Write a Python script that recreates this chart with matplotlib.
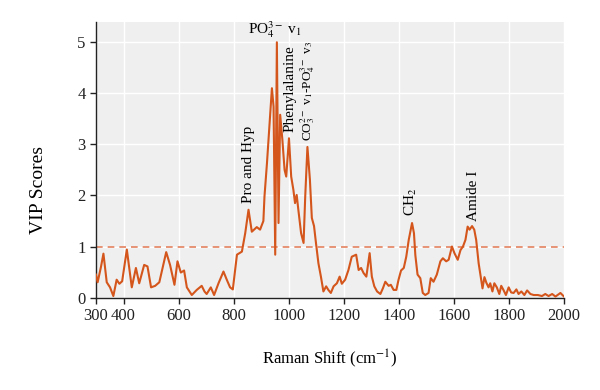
import matplotlib
matplotlib.use("Agg")
import matplotlib.pyplot as plt

plt.rcParams["font.family"] = ["Liberation Serif", "DejaVu Serif"]
plt.rcParams["mathtext.fontset"] = "stix"

# Raman shift (cm-1) and VIP scores
shift = [300, 306, 318, 327, 339, 351, 363, 375, 385, 395, 412, 430, 445, 457,
         475, 487, 500, 515, 530, 555, 569, 585, 596, 608, 620, 630, 648, 666,
         684, 694, 702, 717, 729, 745, 763, 775, 787, 797, 812, 830, 842, 854,
         866, 884, 896, 908, 912, 921, 929, 939, 945, 951, 957, 963, 969, 977,
         985, 991, 1001, 1009, 1017, 1023, 1029, 1035, 1045, 1054, 1060, 1068,
         1077, 1084, 1092, 1099, 1108, 1117, 1126, 1136, 1144, 1153, 1163, 1175,
         1185, 1193, 1205, 1217, 1229, 1245, 1254, 1263, 1272, 1282, 1294, 1302,
         1311, 1321, 1333, 1342, 1351, 1363, 1371, 1381, 1391, 1399, 1408, 1418,
         1427, 1436, 1448, 1455, 1460, 1468, 1478, 1487, 1496, 1508, 1516, 1526,
         1538, 1551, 1560, 1572, 1581, 1593, 1602, 1614, 1624, 1633, 1642, 1650,
         1657, 1666, 1674, 1681, 1690, 1699, 1704, 1711, 1718, 1726, 1732, 1740,
         1747, 1756, 1765, 1772, 1780, 1789, 1799, 1808, 1817, 1827, 1835, 1845,
         1856, 1866, 1878, 1890, 1905, 1920, 1932, 1944, 1957, 1969, 1977, 1987,
         2000]
vip = [0.45, 0.3, 0.6, 0.86, 0.3, 0.2, 0.03, 0.35, 0.27, 0.32, 0.94, 0.2, 0.58, 0.28,
       0.64, 0.61, 0.2, 0.23, 0.3, 0.89, 0.64, 0.25, 0.71, 0.49, 0.53, 0.2, 0.05, 0.15,
       0.23, 0.12, 0.07, 0.2, 0.05, 0.28, 0.51, 0.35, 0.2, 0.16, 0.84, 0.9, 1.26, 1.72,
       1.29, 1.38, 1.33, 1.5, 1.98, 2.63, 3.29, 4.1, 3.74, 0.84, 5.0, 1.46, 3.58, 3.09,
       2.5, 2.37, 3.12, 2.37, 2.11, 1.85, 2.01, 1.72, 1.26, 1.07, 1.98, 2.95,
       2.31, 1.56, 1.4, 1.07, 0.67, 0.41, 0.12, 0.22, 0.15, 0.09, 0.22, 0.28,
       0.41, 0.27, 0.35, 0.54, 0.8, 0.84, 0.54, 0.58, 0.48, 0.41, 0.87, 0.41,
       0.22, 0.12, 0.07, 0.18, 0.31, 0.23, 0.25, 0.15, 0.15, 0.35, 0.53, 0.58,
       0.8, 1.13, 1.46, 1.26, 0.83, 0.45, 0.38, 0.09, 0.05, 0.09, 0.38, 0.31,
       0.45, 0.71, 0.77, 0.71, 0.74, 1.0, 0.87, 0.74, 0.93, 1.0, 1.13, 1.39,
       1.33, 1.4, 1.33, 1.13, 0.67, 0.35, 0.18, 0.4, 0.29, 0.2, 0.28, 0.12,
       0.28, 0.2, 0.07, 0.23, 0.15, 0.05, 0.2, 0.1, 0.09, 0.16, 0.07, 0.12,
       0.05, 0.14, 0.07, 0.05, 0.05, 0.03, 0.07, 0.03, 0.07, 0.02, 0.05, 0.09,
       0.02]

xticks = [300, 400, 600, 800, 1000, 1200, 1400, 1600, 1800, 2000]
yticks = [0, 1, 2, 3, 4, 5]
threshold = 1.0

# band labels: text, x, y (bottom of rotated text), font size
bands = [
    ("Pro and Hyp", 853, 1.85, 11),
    ("Phenylalanine", 1003, 3.24, 11),
    (r"CO$_3^{2-}$ v$_1$-PO$_4^{3-}$ v$_3$", 1068, 3.06, 9.5),
    (r"CH$_2$", 1444, 1.6, 11),
    ("Amide I", 1671, 1.5, 11),
]

line_color = "#d4561c"

fig = plt.figure(figsize=(6, 3.9), dpi=100)
ax = fig.add_axes([0.16, 0.237, 0.78, 0.707])
ax.set_facecolor("#efefef")

ax.plot(shift, vip, color=line_color, linewidth=1.5, zorder=3)
ax.axhline(threshold, color="#e4825f", linestyle=(0, (4, 3)), linewidth=1.2, zorder=2)

ax.set_xlim(300, 2000)
ax.set_ylim(0, 5.4)
ax.set_xticks(xticks)
ax.set_yticks(yticks)
ax.grid(True, color="white", linewidth=1.0, zorder=0)
ax.set_axisbelow(True)

for side in ["top", "right"]:
    ax.spines[side].set_visible(False)
for side in ["left", "bottom"]:
    ax.spines[side].set_color("#222222")
    ax.spines[side].set_linewidth(1.0)
ax.tick_params(direction="out", length=4, width=1, colors="#222222", labelsize=12)

ax.set_xlabel(r"Raman Shift (cm$^{-1}$)", fontsize=12)
ax.set_ylabel("VIP Scores", fontsize=14)
ax.xaxis.set_label_coords(0.5, -0.18)
ax.yaxis.set_label_coords(-0.105, 0.39)

for text, x, y, size in bands:
    ax.text(x, y, text, rotation=90, ha="center", va="bottom", fontsize=size, zorder=4)

ax.text(952, 5.04, r"PO$_4^{3-}$ v$_1$", ha="center", va="bottom", fontsize=11, zorder=4)

plt.savefig("out.png", dpi=100)
